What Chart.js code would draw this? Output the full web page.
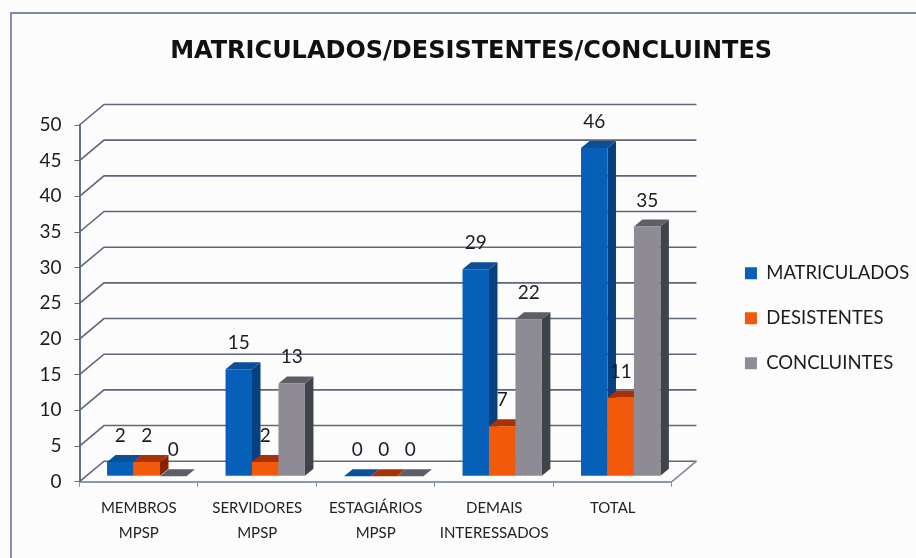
<!DOCTYPE html>
<html>
<head>
<meta charset="utf-8">
<style>
  html, body { margin: 0; padding: 0; background: #fcfcfd; overflow: hidden; }
  #frame { position: absolute; left: 10px; top: 12px; right: 0; bottom: 0; border-left: 2px solid #8790b4; border-top: 2px solid #7f8aa8; }
  #box { position: absolute; left: 0; top: 0; width: 916px; height: 558px; }
</style>
</head>
<body>
<div id="frame"></div>
<div id="box"><canvas id="myChart" width="916" height="558"></canvas></div>
<script src="https://cdn.jsdelivr.net/npm/chart.js@4"></script>
<script>
var categories = [['MEMBROS', 'MPSP'], ['SERVIDORES', 'MPSP'], ['ESTAGIÁRIOS', 'MPSP'], ['DEMAIS', 'INTERESSADOS'], ['TOTAL']];
var matriculados = [2, 15, 0, 29, 46];
var desistentes = [2, 2, 0, 7, 11];
var concluintes = [0, 13, 0, 22, 35];

var fontName = "Lato, 'Open Sans', sans-serif";

// fake 3D: back wall offset for the grid, and the depth of each bar
var wall = { x: 24.5, y: -20.5 };
var barShift = { x: 8, y: -5.5 };
var depth = { x: 8.5, y: -7 };

var shades = [
  { top: '#0b4f96', side: '#064080' }, // blue
  { top: '#a83206', side: '#8a2200' }, // orange
  { top: '#5c5f68', side: '#3f444a' }  // grey
];

var fake3d = {
  id: 'fake3d',
  beforeDatasetsDraw: function(chart) {
    var ctx = chart.ctx, a = chart.chartArea, y = chart.scales.y;

    // wall lines, one per tick
    ctx.save();
    ctx.strokeStyle = '#5d667c';
    ctx.lineWidth = 1.6;
    y.ticks.forEach(function(t) {
      var py = y.getPixelForValue(t.value);
      ctx.beginPath();
      ctx.moveTo(a.left, py);
      ctx.lineTo(a.left + wall.x, py + wall.y);
      ctx.lineTo(a.right + wall.x, py + wall.y);
      ctx.stroke();
    });
    // floor right edge
    ctx.strokeStyle = '#7e8c9c';
    ctx.beginPath();
    ctx.moveTo(a.right, a.bottom);
    ctx.lineTo(a.right + wall.x, a.bottom + wall.y);
    ctx.stroke();
    ctx.restore();

    // bars left to right, so each front hides the side of the one before
    ctx.save();
    ctx.translate(barShift.x, barShift.y);
    chart.data.datasets.forEach(function(ds, i) {
      chart.getDatasetMeta(i).data.forEach(function(bar) {
        var w = bar.width / 2;
        var l = bar.x - w, r = bar.x + w;
        ctx.fillStyle = shades[i].side;
        ctx.beginPath();
        ctx.moveTo(r, bar.y);
        ctx.lineTo(r + depth.x, bar.y + depth.y);
        ctx.lineTo(r + depth.x, bar.base + depth.y);
        ctx.lineTo(r, bar.base);
        ctx.closePath();
        ctx.fill();
        ctx.fillStyle = shades[i].top;
        ctx.beginPath();
        ctx.moveTo(l, bar.y);
        ctx.lineTo(l + depth.x, bar.y + depth.y);
        ctx.lineTo(r + depth.x, bar.y + depth.y);
        ctx.lineTo(r, bar.y);
        ctx.closePath();
        ctx.fill();
        bar.draw(ctx, a);
      });
    });
    ctx.restore();

    // value labels on top of everything
    ctx.save();
    ctx.font = '19px ' + fontName;
    ctx.fillStyle = '#1c1c20';
    ctx.textAlign = 'center';
    ctx.textBaseline = 'alphabetic';
    chart.data.datasets.forEach(function(ds, i) {
      chart.getDatasetMeta(i).data.forEach(function(bar, j) {
        ctx.fillText(ds.data[j], bar.x + barShift.x, bar.y + barShift.y - 20);
      });
    });
    ctx.restore();
    return false;
  }
};

var ctx = document.getElementById('myChart').getContext('2d');
var myChart = new Chart(ctx, {
  type: 'bar',
  data: {
    labels: categories,
    datasets: [
      { label: 'MATRICULADOS', data: matriculados, backgroundColor: '#0760b8' },
      { label: 'DESISTENTES', data: desistentes, backgroundColor: '#f05a0a' },
      { label: 'CONCLUINTES', data: concluintes, backgroundColor: '#8f8b94' }
    ]
  },
  options: {
    responsive: false,
    animation: false,
    layout: { padding: { top: 0, left: 23, right: -3.2, bottom: 0 } },
    datasets: { bar: { categoryPercentage: 0.67, barPercentage: 1 } },
    scales: {
      x: {
        afterFit: function(s) { s.height = 76.3; },
        grid: { drawOnChartArea: false, color: '#7e8c9c', tickLength: 5 },
        border: { color: '#8c98a8', width: 2 },
        ticks: { color: '#222', padding: 9.5, maxRotation: 0, font: { family: fontName, size: 15, lineHeight: 1.65 } }
      },
      y: {
        min: 0,
        max: 50,
        afterFit: function(s) { s.width = 56.5; },
        grid: { drawOnChartArea: false, color: '#5d6a7c', tickLength: 5 },
        border: { color: '#62728a', width: 2 },
        ticks: { stepSize: 5, color: '#1c1c20', padding: 13, font: { family: fontName, size: 19 } }
      },
      // empty axis, only keeps the gap between the plot and the legend
      gap: {
        position: 'right',
        display: true,
        grid: { display: false },
        border: { display: false },
        ticks: { display: false },
        afterFit: function(s) { s.width = 46.5; }
      }
    },
    plugins: {
      tooltip: { enabled: false },
      title: {
        display: true,
        text: 'MATRICULADOS/DESISTENTES/CONCLUINTES',
        color: '#111',
        font: { family: "'DejaVu Sans', sans-serif", size: 24, weight: 'bold' },
        padding: { top: 37.6, bottom: 58.6 }
      },
      legend: {
        position: 'right',
        align: 'start',
        maxWidth: 240,
        title: { display: true, text: ' ', font: { size: 12 }, padding: { top: 0, bottom: 223 } },
        labels: {
          color: '#1c1c20',
          boxWidth: 12,
          boxHeight: 12,
          padding: 26.5,
          font: { family: fontName, size: 18.5 }
        }
      }
    }
  },
  plugins: [fake3d]
});
</script>
</body>
</html>
